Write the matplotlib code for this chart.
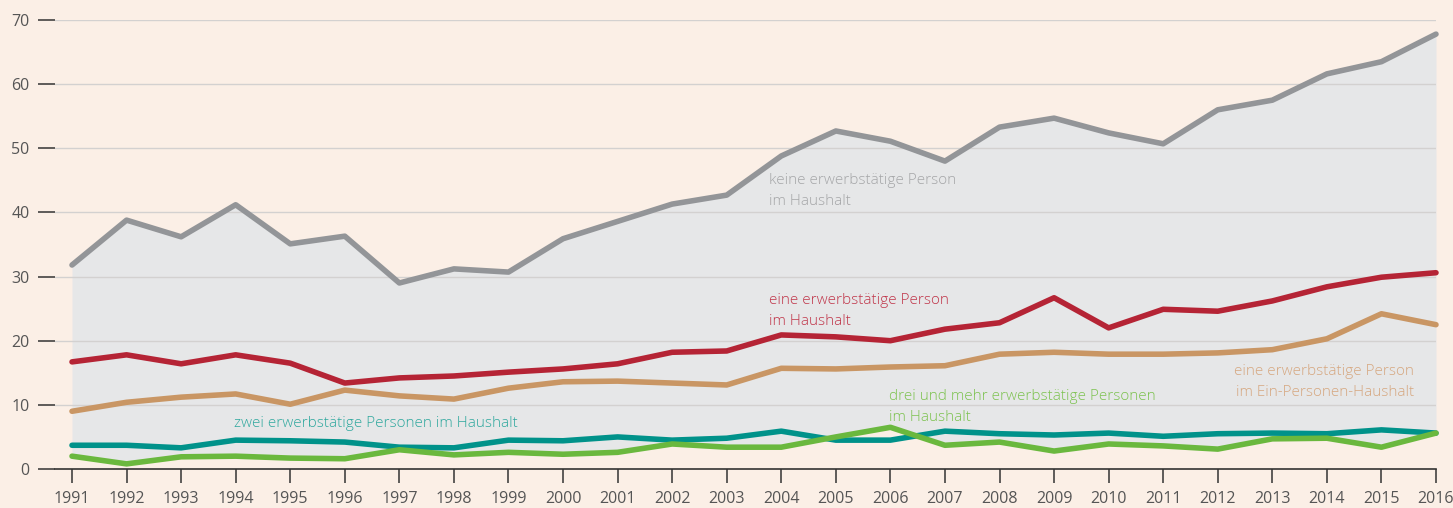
import matplotlib
matplotlib.use("Agg")
import matplotlib.pyplot as plt
import numpy as np

years = list(range(1991, 2017))

keine = [31.8, 38.8, 36.2, 41.2, 35.1, 36.3, 29.0, 31.2, 30.7, 35.9, 38.6, 41.3, 42.7,
         48.8, 52.7, 51.1, 48.0, 53.3, 54.7, 52.4, 50.7, 56.0, 57.5, 61.6, 63.5, 67.8]
eine = [16.7, 17.8, 16.4, 17.8, 16.5, 13.4, 14.2, 14.5, 15.1, 15.6, 16.4, 18.2, 18.4,
        20.9, 20.6, 20.0, 21.8, 22.8, 26.7, 22.0, 24.9, 24.6, 26.2, 28.4, 29.9, 30.6]
eine_ein = [9.0, 10.4, 11.2, 11.7, 10.1, 12.3, 11.4, 10.9, 12.6, 13.6, 13.7, 13.4, 13.1,
            15.7, 15.6, 15.9, 16.1, 17.9, 18.2, 17.9, 17.9, 18.1, 18.6, 20.3, 24.2, 22.5]
zwei = [3.7, 3.7, 3.3, 4.5, 4.4, 4.2, 3.4, 3.3, 4.5, 4.4, 5.0, 4.5, 4.8,
        5.9, 4.5, 4.5, 5.9, 5.5, 5.3, 5.6, 5.1, 5.5, 5.6, 5.5, 6.1, 5.6]
drei = [2.0, 0.8, 1.9, 2.0, 1.7, 1.6, 3.0, 2.2, 2.6, 2.3, 2.6, 3.9, 3.4,
        3.4, 5.0, 6.5, 3.7, 4.2, 2.8, 3.9, 3.6, 3.1, 4.7, 4.8, 3.4, 5.6]

yticks = [0, 10, 20, 30, 40, 50, 60, 70]

bg = "#FBEFE6"
fig = plt.figure(figsize=(14.53, 5.08), dpi=100, facecolor=bg)
ax = fig.add_axes([55/1453, (508-469)/508, 1381/1453, 449/508])
ax.set_facecolor(bg)

x = np.array(years)
ax.fill_between(x, drei, keine, color="#E6E7E8", lw=0, zorder=1)

for y in yticks[1:]:
    ax.axhline(y, color="#D3D1D0", lw=1.0, zorder=2)

lw = 4.0
style = dict(lw=lw, solid_capstyle="round", solid_joinstyle="round", clip_on=False)
ax.plot(x, keine, color="#939598", zorder=5, **style)
ax.plot(x, eine, color="#B52435", zorder=5, **style)
ax.plot(x, eine_ein, color="#C99664", zorder=5, **style)
ax.plot(x, zwei, color="#00928A", zorder=6, **style)
ax.plot(x, drei, color="#6AB83E", zorder=6, **style)

ax.set_xlim(1991 - 17/54.56, 2016)
ax.set_ylim(0, 70)

for s in ["top", "right", "left"]:
    ax.spines[s].set_visible(False)
ax.spines["bottom"].set_color("#333333")
ax.spines["bottom"].set_linewidth(1.2)
ax.spines["bottom"].set_zorder(7)

ax.set_yticks(yticks)
ax.set_yticklabels([str(v) for v in yticks])
ax.set_xticks(years)
ax.set_xticklabels([str(v) for v in years])

font = "Open Sans"
ax.tick_params(axis="y", length=12.2, width=1.1, color="#333333", pad=6,
               labelsize=11.5, labelcolor="#555555")
ax.tick_params(axis="x", direction="out", length=10, width=1.1, color="#333333", pad=6,
               labelsize=11.5, labelcolor="#555555")
for lab in ax.get_xticklabels() + ax.get_yticklabels():
    lab.set_fontfamily(font)

tk = dict(fontsize=11, fontfamily=font, fontweight="light", va="top", linespacing=1.6, zorder=8)
ax.text(2003.77, 46.2, "keine erwerbstätige Person\nim Haushalt", color="#A5A6A8", ha="left", **tk)
ax.text(2003.77, 27.5, "eine erwerbstätige Person\nim Haushalt", color="#C03549", ha="left", **tk)
ax.text(2015.6, 16.4, "eine erwerbstätige Person\nim Ein-Personen-Haushalt", color="#D6A77F", ha="right", **tk)
ax.text(2005.97, 12.5, "drei und mehr erwerbstätige Personen\nim Haushalt", color="#7CC24F", ha="left", **tk)
ax.text(1993.97, 8.3, "zwei erwerbstätige Personen im Haushalt", color="#2FA89E", ha="left", **tk)

fig.savefig("out.png", dpi=100, facecolor=bg)
